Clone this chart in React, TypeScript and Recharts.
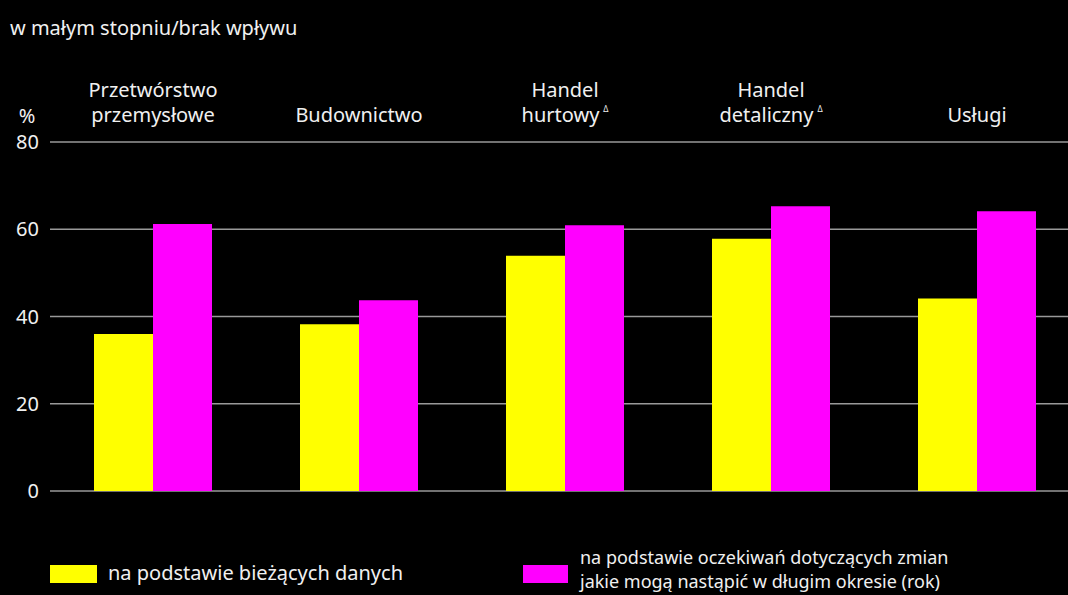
import React from 'react';
import { BarChart, Bar, XAxis, YAxis, CartesianGrid } from 'recharts';

const categories = ['Przetwórstwo przemysłowe', 'Budownictwo', 'Handel hurtowy', 'Handel detaliczny', 'Usługi'];
const categoryLines: string[][] = [
  ['Przetwórstwo', 'przemysłowe'],
  ['Budownictwo'],
  ['Handel', 'hurtowy'],
  ['Handel', 'detaliczny'],
  ['Usługi'],
];
const categoryDelta = [false, false, true, true, false];
const currentData = [36.0, 38.2, 53.9, 57.8, 44.1];
const expectedData = [61.2, 43.7, 60.9, 65.3, 64.1];
const yTicks = [0, 20, 40, 60, 80];

const title = 'w małym stopniu/brak wpływu';
const seriesNames = ['na podstawie bieżących danych', 'na podstawie oczekiwań dotyczących zmian jakie mogą nastąpić w długim okresie (rok)'];
const legendLines = [['na podstawie bieżących danych'], ['na podstawie oczekiwań dotyczących zmian', 'jakie mogą nastąpić w długim okresie (rok)']];

const FONT = '"Noto Sans", sans-serif';
const FS = 20;
const TEXT = '#f0f0f0';
const YELLOW = '#ffff00';
const MAGENTA = '#ff00ff';

const data = categories.map((name, i) => ({
  name,
  current: currentData[i],
  expected: expectedData[i],
}));

const CategoryTick = (props: any) => {
  const { x, y, payload } = props;
  const lines = categoryLines[payload.index] || [payload.value];
  const n = lines.length;
  return (
    <g>
      {lines.map((line, i) => (
        <text
          key={i}
          x={x}
          y={y - 20 - (n - 1 - i) * 25}
          textAnchor="middle"
          fill={TEXT}
          fontSize={FS}
          fontFamily={FONT}
        >
          {line}
          {i === n - 1 && categoryDelta[payload.index] && (
            <tspan fontSize={8} dx={4} dy={-10}>Δ</tspan>
          )}
        </text>
      ))}
    </g>
  );
};

export default function App() {
  return (
    <div
      style={{
        position: 'absolute',
        left: 0,
        top: 0,
        width: 1068,
        height: 595,
        overflow: 'hidden',
        background: '#000',
        fontFamily: FONT,
      }}
    >
      <div style={{ position: 'absolute', left: 10, top: 14, color: TEXT, fontSize: FS, whiteSpace: 'nowrap' }}>
        {title}
      </div>

      <BarChart
        width={1080}
        height={595}
        data={data}
        margin={{ top: 0, right: 0, left: 0, bottom: 104 }}
        barSize={59}
        barGap={0}
      >
        <CartesianGrid horizontal vertical={false} stroke="#999999" strokeWidth={1.5} />
        <XAxis
          dataKey="name"
          orientation="top"
          height={142}
          axisLine={false}
          tickLine={false}
          tickSize={0}
          tickMargin={0}
          interval={0}
          tick={<CategoryTick />}
        />
        <YAxis
          domain={[0, 80]}
          ticks={yTicks}
          width={50}
          axisLine={false}
          tickLine={false}
          tickSize={0}
          tickMargin={11}
          tick={{ fill: TEXT, fontSize: FS, fontFamily: FONT }}
          label={{
            content: (p: any) => (
              <text
                x={p.viewBox.x + 27}
                y={p.viewBox.y - 19}
                textAnchor="middle"
                fill={TEXT}
                fontSize={FS}
                fontFamily={FONT}
              >
                %
              </text>
            ),
          }}
        />
        <Bar dataKey="current" name={seriesNames[0]} fill={YELLOW} isAnimationActive={false} />
        <Bar dataKey="expected" name={seriesNames[1]} fill={MAGENTA} isAnimationActive={false} />
      </BarChart>

      <div style={{ position: 'absolute', left: 50, top: 565, width: 47, height: 18, background: YELLOW }} />
      <div style={{ position: 'absolute', left: 108, top: 561, color: TEXT, fontSize: FS, lineHeight: '24px', whiteSpace: 'nowrap' }}>
        {legendLines[0][0]}
      </div>
      <div style={{ position: 'absolute', left: 523, top: 565, width: 45, height: 18, background: MAGENTA }} />
      <div style={{ position: 'absolute', left: 580, top: 545, color: TEXT, fontSize: 18, lineHeight: '24px', whiteSpace: 'nowrap' }}>
        {legendLines[1][0]}
      </div>
      <div style={{ position: 'absolute', left: 580, top: 569, color: TEXT, fontSize: 18, lineHeight: '24px', whiteSpace: 'nowrap' }}>
        {legendLines[1][1]}
      </div>
    </div>
  );
}
